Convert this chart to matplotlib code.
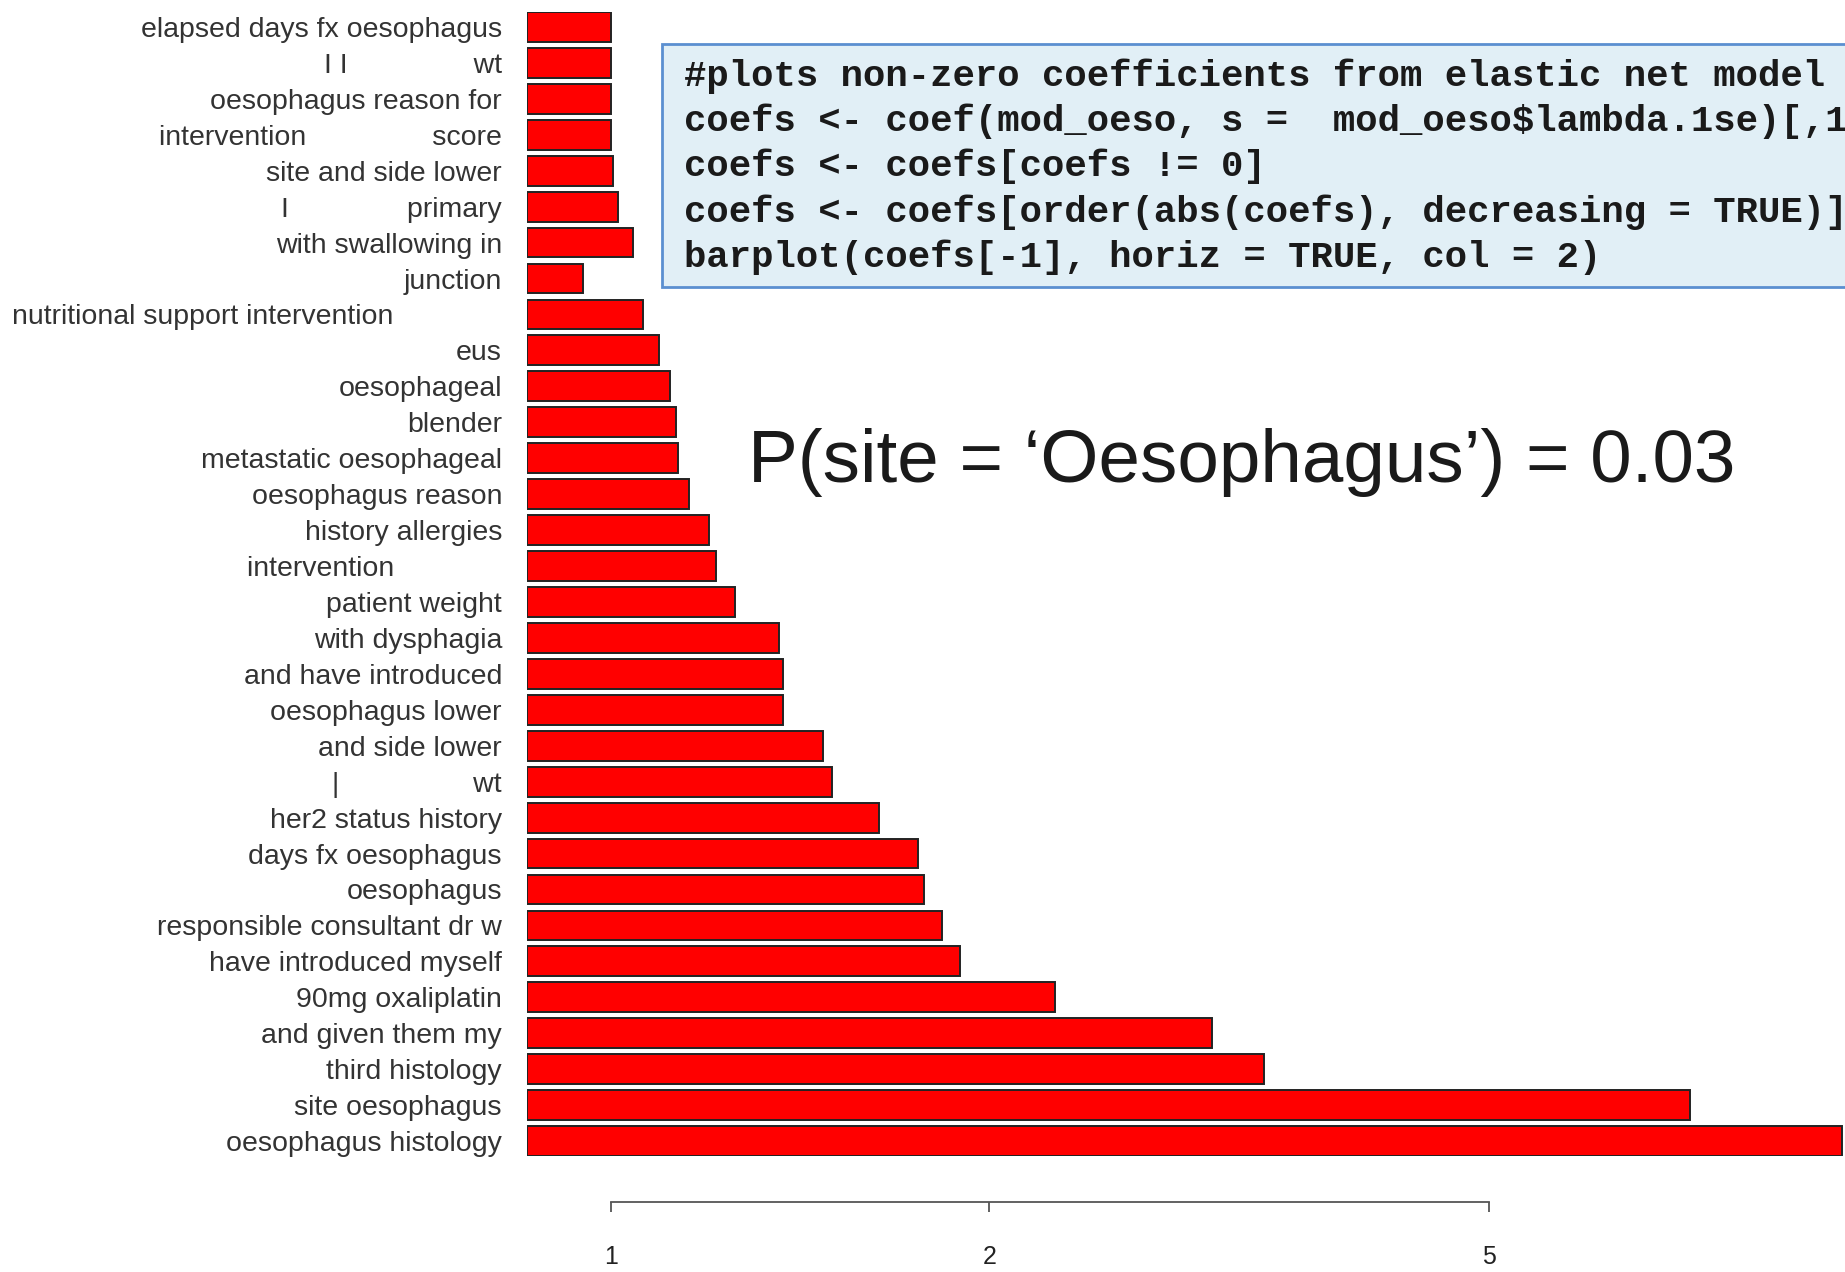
import matplotlib
matplotlib.use("Agg")
import matplotlib.pyplot as plt
from matplotlib.patches import Rectangle
import numpy as np

# labels from top to bottom (some text in the original is blanked out)
labels = [
    "elapsed days fx oesophagus",
    "I I" + " " * 16 + "wt",
    "oesophagus reason for",
    "intervention" + " " * 16 + "score",
    "site and side lower",
    "I" + " " * 15 + "primary",
    "with swallowing in",
    "junction",
    "nutritional support intervention" + " " * 13 + "\u2009",
    "eus",
    "oesophageal",
    "blender",
    "metastatic oesophageal",
    "oesophagus reason",
    "history allergies",
    "intervention" + " " * 13 + "\u2009",
    "patient weight",
    "with dysphagia",
    "and have introduced",
    "oesophagus lower",
    "and side lower",
    "|" + " " * 17 + "wt",
    "her2 status history",
    "days fx oesophagus",
    "oesophagus",
    "responsible consultant dr w",
    "have introduced myself",
    "90mg oxaliplatin",
    "and given them my",
    "third histology",
    "site oesophagus",
    "oesophagus histology",
]
values = [1.00, 1.00, 1.00, 1.00, 1.003, 1.013, 1.04, 0.95, 1.06, 1.092,
          1.114, 1.126, 1.131, 1.153, 1.196, 1.211, 1.254, 1.361, 1.370, 1.370,
          1.474, 1.500, 1.634, 1.755, 1.774, 1.833, 1.897, 2.254, 3.01, 3.31,
          7.23, 9.55]
xticks = [1, 2, 5]

code_lines = [
    "#plots non-zero coefficients from elastic net model",
    "coefs <- coef(mod_oeso, s =  mod_oeso$lambda.1se)[,1",
    "coefs <- coefs[coefs != 0]",
    "coefs <- coefs[order(abs(coefs), decreasing = TRUE)]",
    "barplot(coefs[-1], horiz = TRUE, col = 2)",
]

W, H = 1845, 1272
fig = plt.figure(figsize=(W / 100, H / 100), dpi=100)
base = 0.857
ax = fig.add_axes([527 / W, 1 - 1156 / H, 1 - 527 / W, (1156 - 12) / H])

y = np.arange(len(values))
ax.barh(y, np.array(values) - base, left=base, height=0.83,
        color="#ff0000", edgecolor="#222222", linewidth=1.4)
ax.set_xscale("log")
ax.set_xlim(base, 9.6)
ax.set_ylim(len(values) - 1 + 0.415, -0.415)

ax.set_yticks(y)
ax.set_yticklabels(labels, fontsize=20.5, family="Liberation Sans", color="#333333")
ax.tick_params(axis="y", length=0, pad=18)

ax.set_xticks(xticks)
ax.set_xticklabels([str(t) for t in xticks])
ax.xaxis.set_minor_locator(matplotlib.ticker.NullLocator())
ax.tick_params(axis="x", length=7, width=1.3, color="#555555", pad=24,
               labelsize=18, labelcolor="#222222", labelfontfamily="Liberation Sans")
for s in ["top", "right", "left"]:
    ax.spines[s].set_visible(False)
ax.spines["bottom"].set_position(("outward", 33))
ax.spines["bottom"].set_bounds(1, 5)
ax.spines["bottom"].set_color("#555555")
ax.spines["bottom"].set_linewidth(1.3)
ax.patch.set_visible(False)

# code box
fig.patches.append(Rectangle((662 / W, 1 - 287 / H), 1.0, (287 - 44) / H,
                             transform=fig.transFigure, facecolor="#e1eff6",
                             edgecolor="#5b8fd0", linewidth=2, zorder=0))
for i, line in enumerate(code_lines):
    fig.text(684 / W, 1 - (76 + 45.3 * i) / H, line, fontsize=26.8,
             family="Liberation Mono", weight="bold", color="#1a1a1a",
             va="center", ha="left")

fig.text(748 / W, 1 - 463 / H, "P(site = \u2018Oesophagus\u2019) = 0.03",
         fontsize=53.7, family="Liberation Sans", color="#1a1a1a",
         va="center", ha="left")

fig.savefig("out.png", dpi=100)
